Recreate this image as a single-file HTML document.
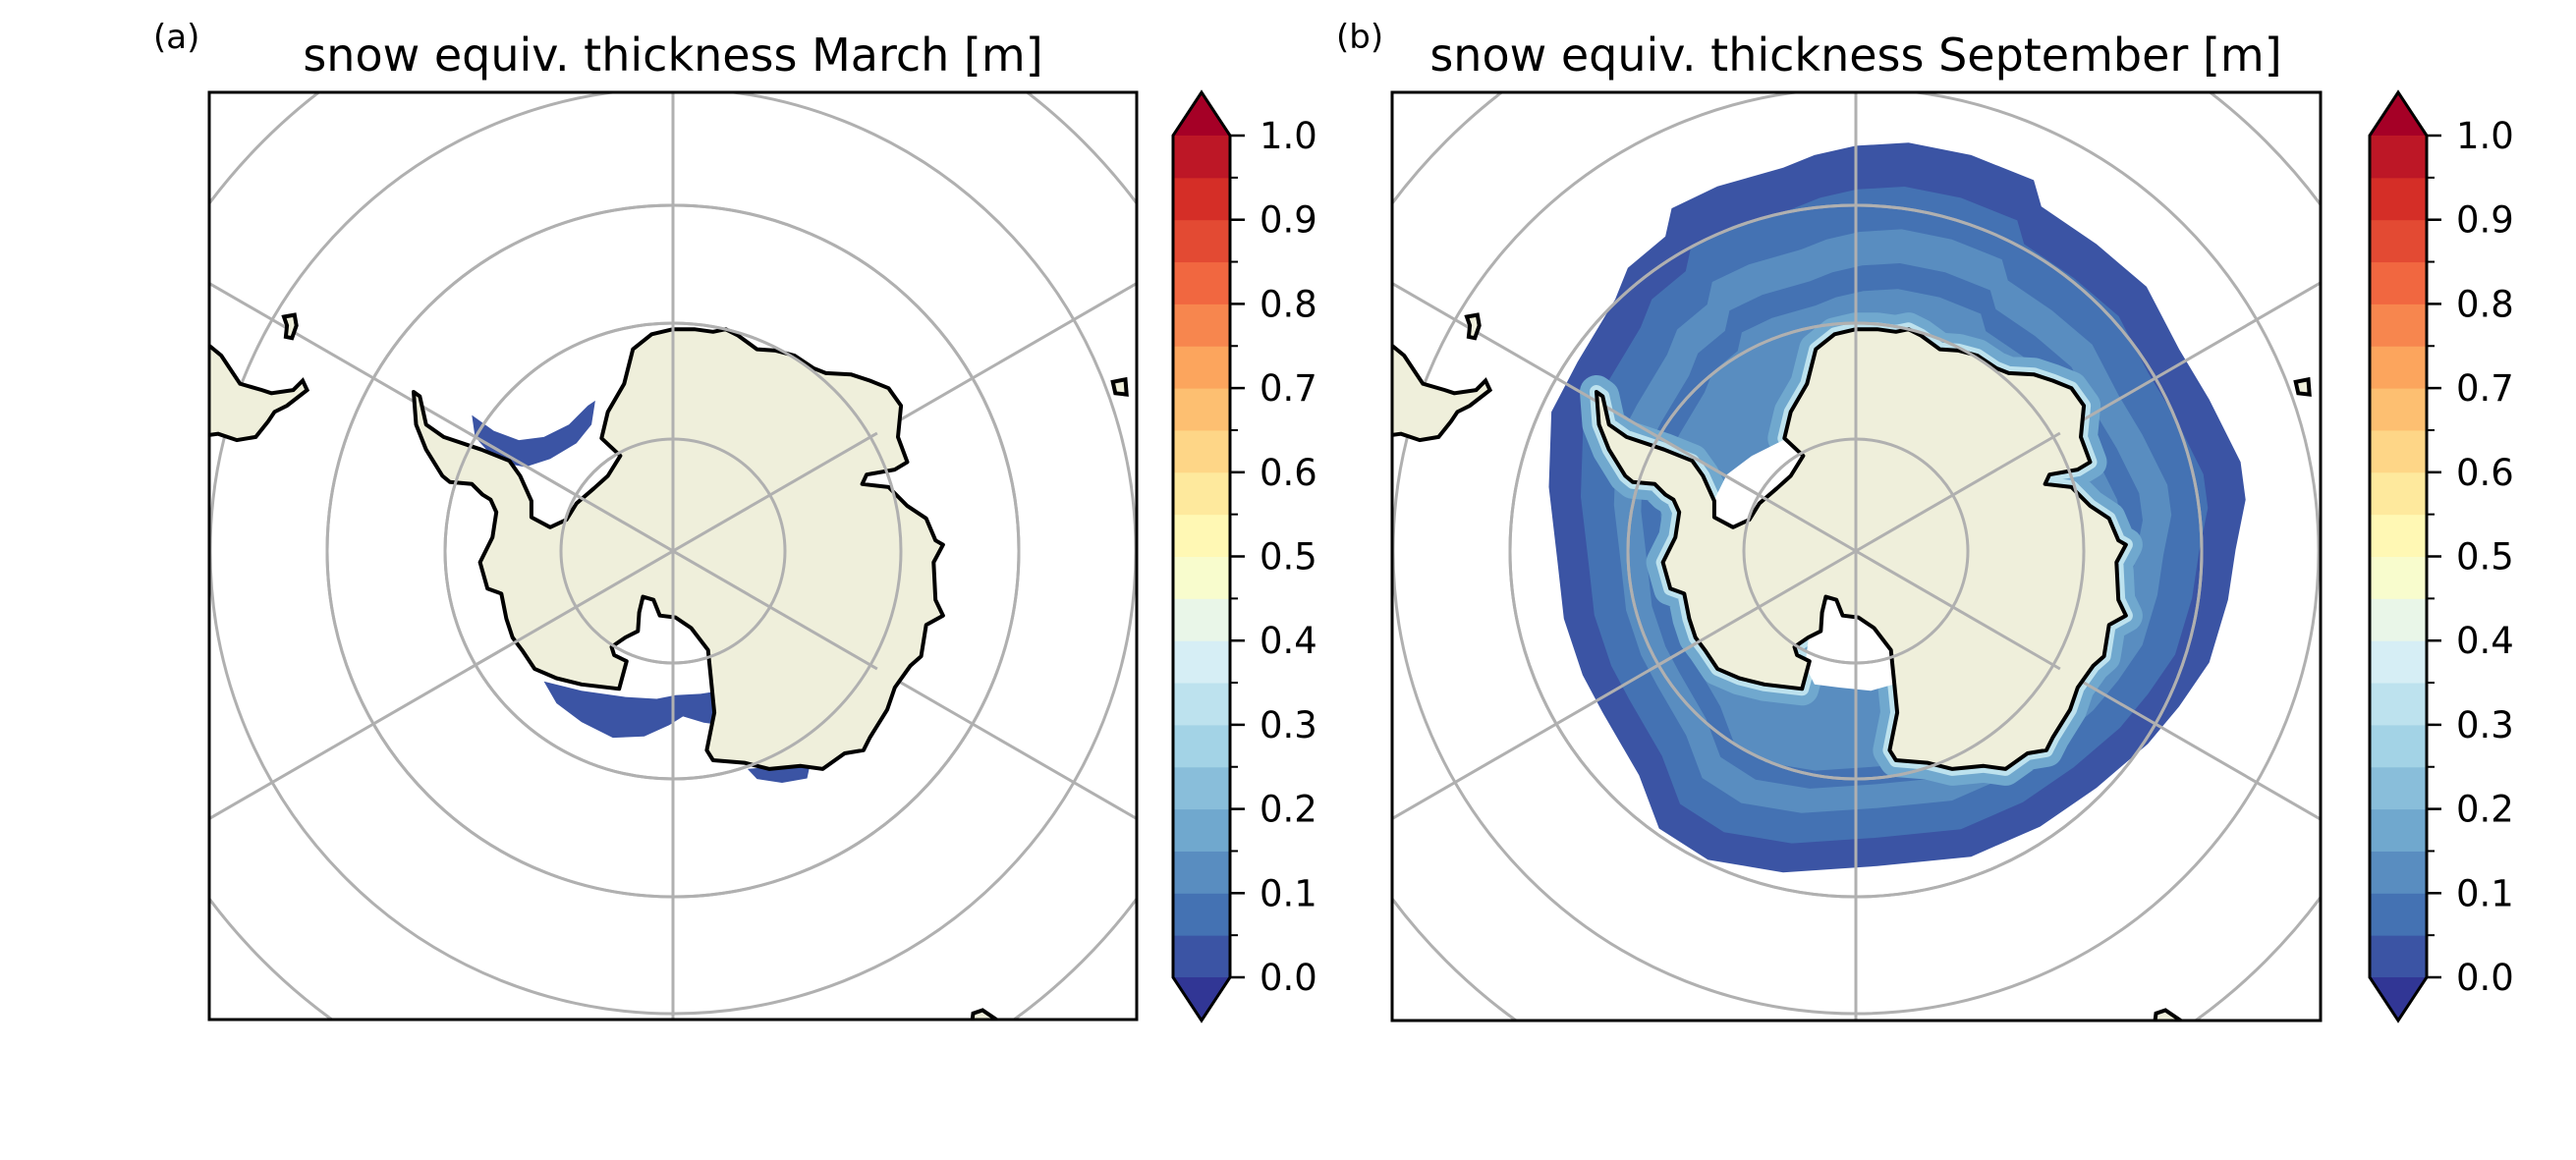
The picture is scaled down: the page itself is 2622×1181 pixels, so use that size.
<!DOCTYPE html>
<html><head><meta charset="utf-8"><style>
html,body{margin:0;padding:0;background:#fff;overflow:hidden;width:2622px;height:1181px}
svg{display:block}
text{font-family:"DejaVu Sans","Liberation Sans",sans-serif;fill:#000}
</style></head><body>
<svg id="fig" width="2622" height="1181" viewBox="0 0 2622 1181" xmlns="http://www.w3.org/2000/svg">
<defs>
<clipPath id="clipA"><rect x="213" y="94" width="944" height="944"/></clipPath>
<clipPath id="clipB"><rect x="1417" y="94" width="945" height="945"/></clipPath>
</defs>
<rect width="2622" height="1181" fill="#fff"/>
<text x="156" y="49" font-size="34">(a)</text>
<text x="685" y="72" font-size="46" text-anchor="middle">snow equiv. thickness March [m]</text>
<text x="1360" y="49" font-size="34">(b)</text>
<text x="1889" y="72" font-size="46" text-anchor="middle">snow equiv. thickness September [m]</text>
<g id="panelA" clip-path="url(#clipA)"></g>
<g id="panelB" clip-path="url(#clipB)"></g>
<rect x="213" y="94" width="944" height="944" fill="none" stroke="#000" stroke-width="3"/>
<rect x="1417" y="94" width="945" height="945" fill="none" stroke="#000" stroke-width="3"/>
<g id="cbA"></g>
<g id="cbB"></g>
</svg>
<script>
// colorbar data
const levels = [0,0.05,0.1,0.15,0.2,0.25,0.3,0.35,0.4,0.45,0.5,0.55,0.6,0.65,0.7,0.75,0.8,0.85,0.9,0.95,1.0];
const tickValues = [0,0.1,0.2,0.3,0.4,0.5,0.6,0.7,0.8,0.9,1.0];
const tickLabels = ["0.0","0.1","0.2","0.3","0.4","0.5","0.6","0.7","0.8","0.9","1.0"];
const anchors = ["#313695","#4575b4","#74add1","#abd9e9","#e0f3f8","#ffffbf","#fee090","#fdae61","#f46d43","#d73027","#a50026"];
// graticule radii (latitude circles) and meridian angles
const latRadii = [114,232,352,471,590,710];
const meridians = [30,90,150];
// september snow band levels (bin index)
const sepBands = [0,1,2,1,2];

const NS="http://www.w3.org/2000/svg";
function hex(c){return [1,3,5].map(i=>parseInt(c.substr(i,2),16));}
function cmap(t){t=Math.max(0,Math.min(1,t));const p=t*10,i=Math.min(9,Math.floor(p)),f=p-i;const a=hex(anchors[i]),b=hex(anchors[i+1]);return "rgb("+a.map((v,k)=>Math.round(v+(b[k]-v)*f)).join(",")+")";}
function binColor(i){return cmap((i+1)/(levels.length));}
function el(tag,attrs,parent){const e=document.createElementNS(NS,tag);for(const k in attrs)e.setAttribute(k,attrs[k]);parent.appendChild(e);return e;}

const antarctica=[[766,368],[800,368],[830,372],[850,368],[870,378],[900,400],[930,402],[960,410],[990,430],[1010,438],[1050,440],[1080,450],[1110,462],[1130,490],[1125,540],[1140,580],[1120,592],[1075,600],[1068,615],[1110,620],[1140,650],[1170,670],[1185,705],[1197,712],[1182,740],[1185,800],[1197,825],[1170,840],[1162,890],[1145,905],[1120,940],[1108,975],[1080,1020],[1070,1040],[1040,1045],[1005,1070],[970,1065],[920,1070],[880,1060],[830,1056],[820,1040],[832,980],[826,920],[822,880],[795,845],[770,828],[745,825],[735,800],[718,795],[712,820],[710,850],[690,860],[668,875],[672,888],[692,898],[680,942],[620,935],[580,925],[545,910],[525,880],[510,860],[500,830],[492,790],[470,782],[458,740],[478,700],[484,660],[475,640],[462,632],[445,615],[410,612],[398,602],[372,560],[356,520],[352,468],[362,475],[372,520],[400,540],[460,560],[505,578],[522,602],[540,642],[540,668],[570,684],[596,672],[612,646],[640,622],[662,602],[682,570],[652,542],[662,500],[688,455],[702,400],[732,376]];
const rossGap=[[690,865],[705,800],[735,800],[770,828],[800,850],[822,885],[826,935],[790,945],[740,940],[700,935],[685,905]];
const weddellGap=[[540,640],[560,600],[600,570],[650,545],[680,570],[662,602],[640,622],[612,646],[596,672],[570,684],[540,668]];
const sepOuter=[[700,90],[766,75],[850,70],[950,90],[1050,130],[1062,172],[1150,232],[1230,300],[1282,400],[1330,480],[1380,580],[1388,640],[1372,720],[1360,800],[1330,900],[1282,970],[1232,1030],[1150,1100],[1060,1162],[950,1210],[800,1225],[650,1235],[530,1215],[452,1165],[420,1080],[362,980],[330,920],[300,830],[290,740],[276,620],[280,500],[322,420],[382,320],[402,270],[462,220],[472,175],[545,140],[650,110]];
const southAmerica=[[0,380],[27,395],[45,410],[75,455],[110,465],[125,470],[160,465],[175,450],[182,465],[150,490],[130,500],[120,515],[100,540],[70,545],[40,535],[0,540]];
const island1=[[145,348],[162,345],[165,362],[158,382],[148,380],[150,362]];
const island2=[[1468,452],[1488,448],[1490,472],[1472,470]];
const island3=[[1240,1500],[1245,1460],[1260,1455],[1285,1472],[1290,1500]];
const marchWeddell=[[445,505],[480,530],[520,545],[560,540],[600,520],[630,490],[642,482],[636,520],[612,550],[570,575],[530,588],[500,582],[470,562],[450,540]];
const marchRoss=[[560,930],[620,945],[690,955],[740,958],[770,952],[810,950],[842,945],[844,1000],[815,996],[782,986],[760,1000],[720,1018],[670,1020],[620,995],[580,965]];
const marchRoss2=[[885,1070],[930,1066],[985,1062],[980,1085],[940,1092],[900,1086]];
function pts(poly,cx,cy){return poly.map(p=>((cx+(p[0]-766)/1.568).toFixed(1)+","+(cy+(p[1]-722)/1.568).toFixed(1))).join(" ");}
function scaled(poly,s,dx,dy){return poly.map(p=>[766+(p[0]-766)*s+dx,722+(p[1]-722)*s+dy]);}

function grid(g,cx,cy,L){
  latRadii.forEach(r=>{if(r>L+120)return;const c=el("circle",{cx:cx,cy:cy,r:r,fill:"none",stroke:"#b0b0b0","stroke-width":3},g);
    });
  meridians.forEach(a=>{const t=a*Math.PI/180;const l=el("line",{x1:cx-L*Math.cos(t),y1:cy-L*Math.sin(t),x2:cx+L*Math.cos(t),y2:cy+L*Math.sin(t),stroke:"#b0b0b0","stroke-width":3},g);
    });
}
function drawPanel(g,cx,cy,sep){
  if(sep){
    const ring=[[1,0,0],[0.9,2,5],[0.8,6,8],[0.72,10,10],[0.66,12,12]];
    ring.forEach((r,i)=>{const e=el("polygon",{points:pts(scaled(sepOuter,r[0],r[1],r[2]),cx,cy),fill:binColor(sepBands[i])},g);
      });
    const halo1=el("polygon",{points:pts(antarctica,cx,cy),fill:"none",stroke:binColor(3),"stroke-width":34,"stroke-linejoin":"round"},g);
    
    const halo2=el("polygon",{points:pts(antarctica,cx,cy),fill:"none",stroke:binColor(6),"stroke-width":14,"stroke-linejoin":"round"},g);
    
    [rossGap,weddellGap].forEach((p,i)=>{const e=el("polygon",{points:pts(p,cx,cy),fill:"#fff"},g);
      });
  } else {
    [marchWeddell,marchRoss,marchRoss2].forEach((p,i)=>{const e=el("polygon",{points:pts(p,cx,cy),fill:binColor(0)},g);
      });
  }
  grid(g,cx,cy,900);
  const land=el("polygon",{points:pts(antarctica,cx,cy),fill:"#efefdb",stroke:"#000","stroke-width":4,"stroke-linejoin":"round"},g);
  
  grid(g,cx,cy,240);
  [southAmerica,island1,island2,island3].forEach((p,i)=>{const e=el("polygon",{points:pts(p,cx,cy),fill:"#efefdb",stroke:"#000","stroke-width":4},g);
    });
}
drawPanel(document.getElementById("panelA"),685,561,false);
drawPanel(document.getElementById("panelB"),1889,561,true);

function drawColorbar(g,x0,w){
  const yTop=138,yBot=995,tip=44;
  const y=v=>yBot-(v-levels[0])/(levels[levels.length-1]-levels[0])*(yBot-yTop);
  for(let i=0;i<levels.length-1;i++){
    const r=el("rect",{x:x0,y:y(levels[i+1]),width:w,height:y(levels[i])-y(levels[i+1])+0.5,fill:binColor(i)},g);
    
  }
  const up=el("polygon",{points:`${x0},${yTop} ${x0+w/2},${yTop-tip} ${x0+w},${yTop}`,fill:cmap(1)},g);
  
  const dn=el("polygon",{points:`${x0},${yBot} ${x0+w/2},${yBot+tip} ${x0+w},${yBot}`,fill:cmap(0)},g);
  
  const o=el("polygon",{points:`${x0},${yTop} ${x0+w/2},${yTop-tip} ${x0+w},${yTop} ${x0+w},${yBot} ${x0+w/2},${yBot+tip} ${x0},${yBot}`,fill:"none",stroke:"#000","stroke-width":3},g);
  
  levels.forEach(v=>{const l=el("line",{x1:x0+w,x2:x0+w+8,y1:y(v),y2:y(v),stroke:"#000","stroke-width":2},g);
    });
  tickValues.forEach((v,i)=>{
    const l=el("line",{x1:x0+w,x2:x0+w+15,y1:y(v),y2:y(v),stroke:"#000","stroke-width":2.5},g);
    
    const t=el("text",{x:x0+w+30,y:y(v)+13,"font-size":37},g);t.textContent=tickLabels[i];
    
  });
}
drawColorbar(document.getElementById("cbA"),1194,58);
drawColorbar(document.getElementById("cbB"),2412,58);
</script>
</body></html>
